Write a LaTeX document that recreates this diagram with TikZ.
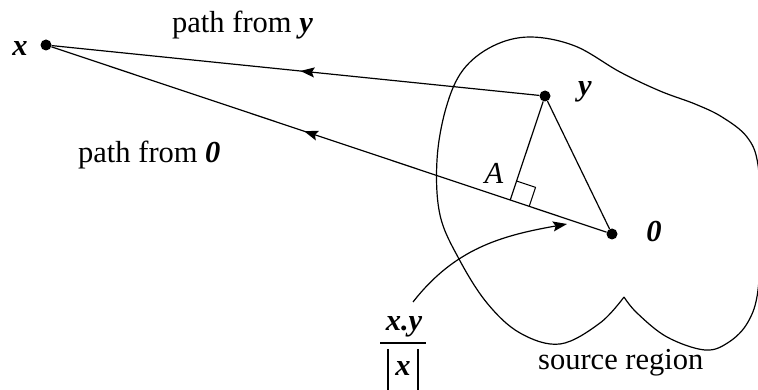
\documentclass[tikz,border=0pt]{standalone}
\usepackage{fontspec}
\setmainfont{Liberation Serif}
\usetikzlibrary{calc,arrows.meta,decorations.markings}
\tikzset{
  lbl/.style={inner sep=0pt,font=\fontsize{30.5}{36}\selectfont},
  bilbl/.style={lbl,font=\fontsize{30.5}{36}\selectfont\bfseries\itshape},
  pt/.style={circle,fill=black,inner sep=0pt,minimum size=11pt},
  tip/.style={-{Stealth[length=14pt,width=10pt,inset=2.5pt]}},
  midarrow/.style={postaction={decorate,decoration={markings,
     mark=at position #1 with {\arrow{Stealth[length=14pt,width=10pt,inset=2.5pt]}}}}},
  thin line/.style={line width=1.2pt},
}
\begin{document}
\begin{tikzpicture}[x=1pt,y=-1pt,line join=round]
\useasboundingbox (0,0) rectangle (758,390);
% points
\node[pt] (X) at (46,45) {};
\node[pt] (Y) at (545,96) {};
\node[pt] (O) at (612,234) {};
\coordinate (A) at ($(X)!(Y)!(O)$);
% source region
\begin{scope}
\clip (0,0) rectangle (758,390);
\draw[thin line] plot[smooth,tension=0.6] coordinates {
 (624,297) (637,313) (667,337) (705,350) (729,342) (748,322) (758,290)
 (760.5,225) (758,165) (747,137) (722,117) (695,104) (660,91) (620,72)
 (575,46) (530,37) (493,46) (463,70) (446,108) (437,160) (440,215)
 (459,259) (487,303) (520,333) (560,344) (600,323) (624,297)};
\end{scope}
% paths
\draw[thin line,midarrow=0.49] (Y) -- (X);
\draw[thin line,midarrow=0.545] (O) -- (X);
\draw[thin line] (Y) -- (A);
\draw[thin line] (Y) -- (O);
% right angle mark
\coordinate (P1) at ($(A)!20pt!(O)$);
\coordinate (P2) at ($(A)!20pt!(Y)$);
\coordinate (P3) at ($(P1)+(P2)-(A)$);
\draw[line width=1pt] (P1) -- (P3) -- (P2);
% labels
\node[bilbl,anchor=base] (lx) at (20,56) {x};
\node[bilbl,anchor=base] (ly) at (585,96) {y};
\node[bilbl,anchor=base] (l0) at (654,242) {0};
\node[lbl,anchor=base,font=\fontsize{30.5}{36}\selectfont\itshape] (lA) at (494,184) {A};
\node[lbl,anchor=base west] (py) at (172,33) {path from \textbf{\textit{y}}};
\node[lbl,anchor=base west] (p0) at (78,163) {path from \textbf{\textit{0}}};
\node[lbl,anchor=base west] (src) at (538,369) {source region};
% fraction
\node[bilbl,anchor=base] (num) at (404,330) {x.y};
\node[bilbl,anchor=base] (den) at (403,375) {x};
\draw[line width=2.6pt] (380,343) -- (426,343);
\draw[line width=1.2pt] (388,349) -- (388,395);
\draw[line width=1.2pt] (418,349) -- (418,395);
% curved arrow
\coordinate (cs) at (413,302);
\coordinate (ce) at (567,224);
\draw[thin line,tip] (cs) to[out=52,in=190] (ce);
\end{tikzpicture}
\end{document}
